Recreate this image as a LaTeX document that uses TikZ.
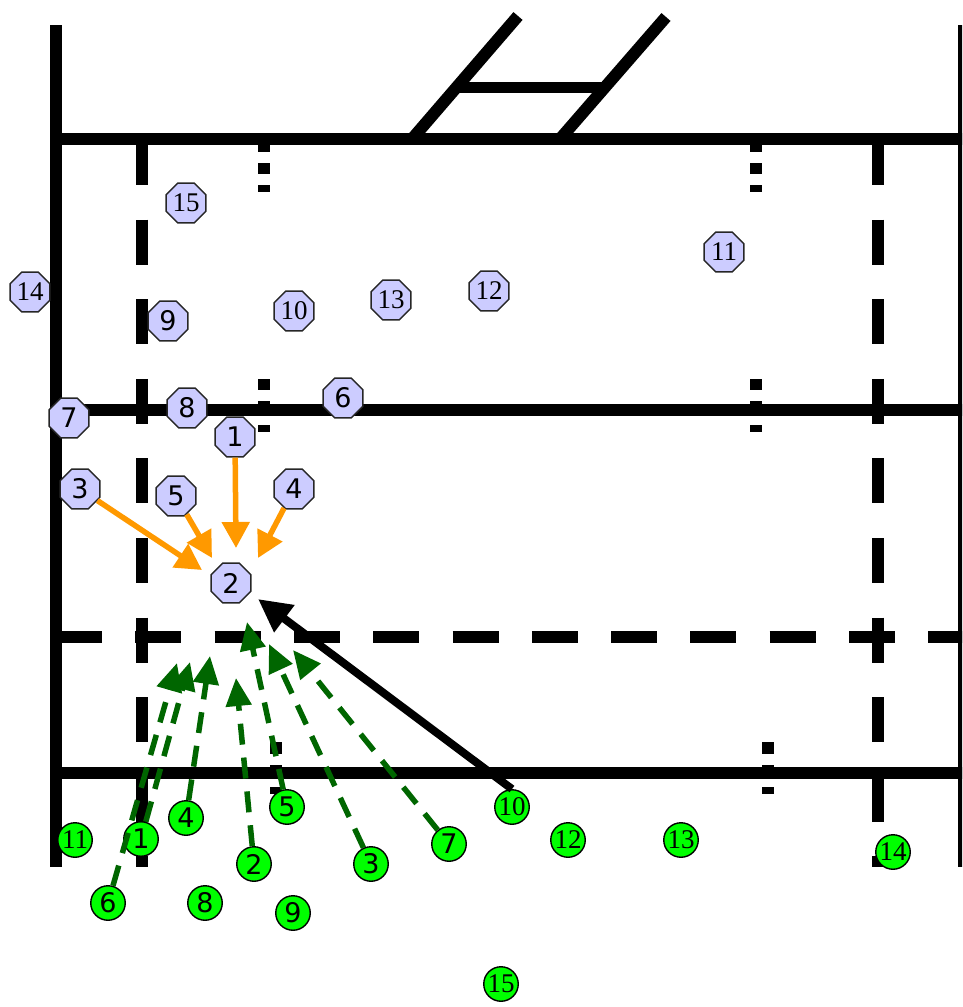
\documentclass[tikz,border=0pt]{standalone}
\usepackage{fontspec}
\setmainfont{Liberation Serif}
\newfontfamily\digitsans{DejaVu Sans}
\usepackage{tikz}
\usetikzlibrary{arrows.meta,shapes.geometric}
\usepackage{xcolor}
\definecolor{lavender}{HTML}{CCCCFF}
\definecolor{grassgreen}{HTML}{00FF00}
\definecolor{runorange}{HTML}{FF9900}
\definecolor{passgreen}{HTML}{006600}

\begin{document}
\begin{tikzpicture}[x=1pt,y=-1pt,font=\fontsize{27}{29}\selectfont,
  fieldline/.style={line width=12pt},
  blueman/.style={regular polygon,regular polygon sides=8,draw=black!85,fill=lavender,line width=1.4pt,minimum size=43pt,inner sep=0pt},
  greenman/.style={circle,draw=black,fill=grassgreen,line width=1.4pt,minimum size=34.5pt,inner sep=0pt},
  onedigit/.style={font=\fontsize{27}{29}\selectfont\digitsans},
  runarrow/.style={draw=runorange,line width=5.5pt,-{Triangle[length=26pt,width=27pt]}},
  passarrow/.style={draw=passgreen,line width=5.5pt,dash pattern=on 21pt off 13pt,-{Triangle[length=28pt,width=25pt]}}]
\useasboundingbox (0,0) rectangle (962,1007);
\begin{scope}
\clip (0,0) rectangle (962,1007);
% touch lines, goal line, 22 and halfway
\draw[fieldline] (56,25) -- (56,867);
\draw[fieldline] (964,25) -- (964,867);
\draw[fieldline] (56,139) -- (970,139);
\draw[fieldline] (56,410) -- (970,410);
\draw[fieldline] (56,773) -- (970,773);
\draw[fieldline,dash pattern=on 46pt off 33.3pt] (56,637) -- (970,637);
\draw[fieldline,dash pattern=on 45pt off 34.6pt] (142,140) -- (142,867);
\draw[fieldline,dash pattern=on 45pt off 34.6pt] (878,140) -- (878,867);
% short marks
\draw[fieldline] (264,139) -- (264,152) (264,163) -- (264,174) (264,185) -- (264,192);
\draw[fieldline] (756,139) -- (756,152) (756,163) -- (756,174) (756,185) -- (756,192);
\draw[fieldline] (264,379) -- (264,390) (264,401) -- (264,415) (264,425) -- (264,432);
\draw[fieldline] (756,379) -- (756,390) (756,401) -- (756,415) (756,425) -- (756,432);
\draw[fieldline] (276,742) -- (276,754) (276,765) -- (276,779) (276,787) -- (276,794);
\draw[fieldline] (768,742) -- (768,754) (768,765) -- (768,779) (768,787) -- (768,794);
% posts
\draw[fieldline] (412,139) -- (518,16);
\draw[fieldline] (560,139) -- (666,17);
\draw[line width=11pt] (457,87) -- (605,87);
\end{scope}

% attack
\node[blueman,onedigit] (b1) at (235,437) {1};
\node[blueman,onedigit] (b2) at (231,583) {2};
\node[blueman,onedigit] (b3) at (80,489) {3};
\node[blueman,onedigit] (b4) at (294,489) {4};
\node[blueman,onedigit] (b5) at (176,496) {5};
\node[blueman,onedigit] (b6) at (343,398) {6};
\node[blueman,onedigit] (b7) at (69,418) {7};
\node[blueman,onedigit] (b8) at (187,408) {8};
\node[blueman,onedigit] (b9) at (168,321) {9};
\node[blueman] (b10) at (294,311) {10};
\node[blueman] (b11) at (724,252) {11};
\node[blueman] (b12) at (489,291) {12};
\node[blueman] (b13) at (391,300) {13};
\node[blueman] (b14) at (30,292) {14};
\node[blueman] (b15) at (186,203) {15};

% defence
\node[greenman,onedigit] (g1) at (141,839) {1};
\node[greenman,onedigit] (g2) at (254,864) {2};
\node[greenman,onedigit] (g3) at (371,864) {3};
\node[greenman,onedigit] (g4) at (186,818) {4};
\node[greenman,onedigit] (g5) at (287,807) {5};
\node[greenman,onedigit] (g6) at (108,903) {6};
\node[greenman,onedigit] (g7) at (449,844) {7};
\node[greenman,onedigit] (g8) at (205,903) {8};
\node[greenman,onedigit] (g9) at (293,913) {9};
\node[greenman] (g10) at (512,807) {10};
\node[greenman] (g11) at (75,840) {11};
\node[greenman] (g12) at (568,840) {12};
\node[greenman] (g13) at (681,840) {13};
\node[greenman] (g14) at (893,852) {14};
\node[greenman] (g15) at (501,984) {15};

% arrow tips
\coordinate (o3) at (202,570);
\coordinate (o5) at (212,558);
\coordinate (o1) at (236,548);
\coordinate (o4) at (258,558);
\coordinate (t6) at (177,663);
\coordinate (t1) at (190,662);
\coordinate (t4) at (210,656);
\coordinate (t2) at (236,678);
\coordinate (t5) at (247,622);
\coordinate (t3) at (269,644);
\coordinate (t7) at (293,650);
\coordinate (kick) at (258,599);

\draw[runarrow] (b3) -- (o3);
\draw[runarrow] (b5) -- (o5);
\draw[runarrow] (b1) -- (o1);
\draw[runarrow] (b4) -- (o4);

\draw[passarrow] (g6) -- (t6);
\draw[passarrow] (g1) -- (t1);
\draw[passarrow] (g4) -- (t4);
\draw[passarrow] (g2) -- (t2);
\draw[passarrow] (g5) -- (t5);
\draw[passarrow] (g3) -- (t3);
\draw[passarrow] (g7) -- (t7);

\draw[line width=8pt,-{Triangle[length=33pt,width=32pt]}] (g10.north) -- (kick);
\end{tikzpicture}
\end{document}
